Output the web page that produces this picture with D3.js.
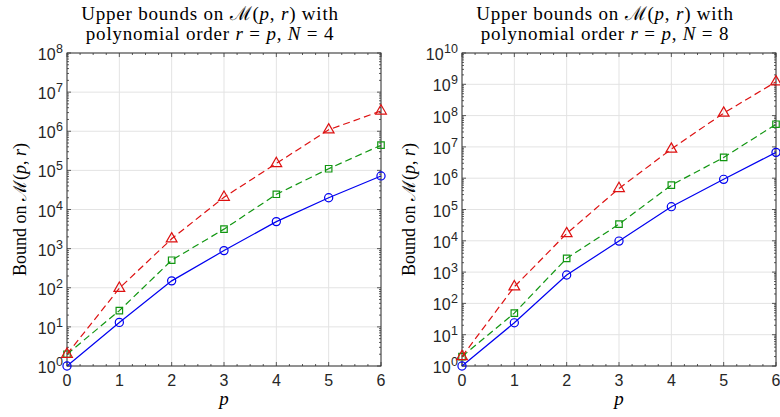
<!DOCTYPE html>
<html>
<head>
<meta charset="utf-8">
<script src="https://cdn.jsdelivr.net/npm/d3@7"></script>
<style>
  body { margin: 0; background: #fff; }
  svg { display: block; }
</style>
</head>
<body>
<div id="chart"></div>
<script>
// Data
var pValues = [0, 1, 2, 3, 4, 5, 6];
var n4Circle   = [1, 13, 150, 890, 4900, 2.0e4, 7.2e4];
var n4Square   = [2, 26, 505, 3150, 2.45e4, 1.1e5, 4.4e5];
var n4Triangle = [2, 97, 1780, 2.06e4, 1.5e5, 1.09e6, 3.3e6];
var n8Circle   = [1, 24, 810, 9800, 1.23e5, 9.2e5, 6.7e6];
var n8Square   = [2, 49, 2750, 3.4e4, 6.0e5, 4.6e6, 5.3e7];
var n8Triangle = [2, 340, 1.7e4, 4.7e5, 8.5e6, 1.2e8, 1.2e9];
var nLabels = [4, 8];
var yTopExp = [8, 10];

var svg = d3.select("#chart")
    .append("svg")
    .attr("width", 780)
    .attr("height", 417);

var panels = [
    { left: 67, right: 381, labelX: 26, N: nLabels[0], topExp: yTopExp[0], series: [n4Circle, n4Square, n4Triangle] },
    { left: 462, right: 776, labelX: 415, N: nLabels[1], topExp: yTopExp[1], series: [n8Circle, n8Square, n8Triangle] }
];

var plotTop = 53, plotBottom = 366;
var styles = [
    { color: "#0000f0", dash: null, marker: "circle" },
    { color: "#119611", dash: "7,4", marker: "square" },
    { color: "#dd1111", dash: "7,4", marker: "triangle" }
];
var serif = "'Liberation Serif', 'DejaVu Serif', serif";
var sans = "'Liberation Sans', Arial, sans-serif";

panels.forEach(drawPanel);

function drawPanel(panel) {
    var x = d3.scaleLinear().domain([0, 6]).range([panel.left, panel.right]);
    var y = d3.scaleLog().domain([1, Math.pow(10, panel.topExp)]).range([plotBottom, plotTop]);
    var g = svg.append("g");

    var majorY = d3.range(0, panel.topExp + 1).map(function (e) { return Math.pow(10, e); });
    // log ticks 1..9 per decade
    var minorY = y.ticks(panel.topExp + 1).filter(function (v) {
        var e = Math.log10(v);
        return Math.abs(e - Math.round(e)) > 1e-9;
    });
    var minorX = d3.range(0, 6.001, 0.25).filter(function (v) { return v % 1 !== 0; });

    // grid
    g.selectAll(".gx").data(pValues).enter().append("line")
        .attr("x1", function (d) { return x(d); }).attr("x2", function (d) { return x(d); })
        .attr("y1", plotTop).attr("y2", plotBottom)
        .attr("stroke", "#e3e3e3").attr("stroke-width", 1);
    g.selectAll(".gy").data(majorY).enter().append("line")
        .attr("y1", function (d) { return y(d); }).attr("y2", function (d) { return y(d); })
        .attr("x1", panel.left).attr("x2", panel.right)
        .attr("stroke", "#e3e3e3").attr("stroke-width", 1);

    // ticks, inward, on all four sides
    var tickColor = "#333";
    function yTicks(vals, len) {
        [panel.left, panel.right].forEach(function (xe, k) {
            var dir = k === 0 ? 1 : -1;
            g.append("g").selectAll("line").data(vals).enter().append("line")
                .attr("x1", xe).attr("x2", xe + dir * len)
                .attr("y1", function (d) { return y(d); }).attr("y2", function (d) { return y(d); })
                .attr("stroke", tickColor).attr("stroke-width", 0.8);
        });
    }
    function xTicks(vals, len) {
        [plotBottom, plotTop].forEach(function (ye, k) {
            var dir = k === 0 ? -1 : 1;
            g.append("g").selectAll("line").data(vals).enter().append("line")
                .attr("y1", ye).attr("y2", ye + dir * len)
                .attr("x1", function (d) { return x(d); }).attr("x2", function (d) { return x(d); })
                .attr("stroke", tickColor).attr("stroke-width", 0.8);
        });
    }
    yTicks(majorY, 4);
    yTicks(minorY, 2);
    xTicks(pValues, 4);
    xTicks(minorX, 2);

    // box
    g.append("rect")
        .attr("x", panel.left).attr("y", plotTop)
        .attr("width", panel.right - panel.left).attr("height", plotBottom - plotTop)
        .attr("fill", "none").attr("stroke", "#333").attr("stroke-width", 1);

    // tick labels
    var yl = g.selectAll(".yl").data(majorY).enter().append("text")
        .attr("x", panel.left - 4)
        .attr("y", function (d) { return y(d) + 7; })
        .attr("text-anchor", "end")
        .attr("font-family", sans).attr("font-size", 16).attr("fill", "#262626");
    yl.append("tspan").text("10");
    yl.append("tspan").attr("dy", -7).attr("dx", 0.5).attr("font-size", 12.5)
        .text(function (d) { return Math.round(Math.log10(d)); });

    g.selectAll(".xl").data(pValues).enter().append("text")
        .attr("x", function (d) { return x(d); })
        .attr("y", plotBottom + 20)
        .attr("text-anchor", "middle")
        .attr("font-family", sans).attr("font-size", 16).attr("fill", "#262626")
        .text(function (d) { return d; });

    // series
    panel.series.forEach(function (vals, si) {
        var st = styles[si];
        var pts = pValues.map(function (p, i) { return [x(p), y(vals[i])]; });
        var line = d3.line();
        g.append("path")
            .attr("d", line(pts))
            .attr("fill", "none").attr("stroke", st.color).attr("stroke-width", 1.2)
            .attr("stroke-dasharray", st.dash);
        var sym = st.marker === "circle" ? d3.symbolCircle : st.marker === "square" ? d3.symbolSquare : d3.symbolTriangle;
        var size = st.marker === "circle" ? 52 : st.marker === "square" ? 42 : 50;
        g.selectAll(".m" + si).data(pts).enter().append("path")
            .attr("transform", function (d) { return "translate(" + d[0] + "," + d[1] + ")"; })
            .attr("d", d3.symbol().type(sym).size(size))
            .attr("fill", "none").attr("stroke", st.color).attr("stroke-width", 1.2);
    });

    // titles
    var cx = (panel.left + panel.right) / 2 - 14;
    var t1 = g.append("text").attr("x", cx).attr("y", 20).attr("text-anchor", "middle")
        .attr("font-family", serif).attr("font-size", 19).attr("letter-spacing", 0.8).attr("fill", "#000");
    t1.append("tspan").text("Upper bounds on \u2133(");
    t1.append("tspan").attr("font-style", "italic").text("p");
    t1.append("tspan").text(", ");
    t1.append("tspan").attr("font-style", "italic").text("r");
    t1.append("tspan").text(") with");

    var t2 = g.append("text").attr("x", cx).attr("y", 40).attr("text-anchor", "middle")
        .attr("font-family", serif).attr("font-size", 19).attr("letter-spacing", 0.8).attr("fill", "#000");
    t2.append("tspan").text("polynomial order ");
    t2.append("tspan").attr("font-style", "italic").text("r");
    t2.append("tspan").text(" = ");
    t2.append("tspan").attr("font-style", "italic").text("p");
    t2.append("tspan").text(", ");
    t2.append("tspan").attr("font-style", "italic").text("N");
    t2.append("tspan").text(" = " + panel.N);

    // axis labels
    g.append("text")
        .attr("x", (panel.left + panel.right) / 2).attr("y", 405)
        .attr("text-anchor", "middle")
        .attr("font-family", serif).attr("font-size", 19).attr("font-style", "italic")
        .text("p");

    var yy = (plotTop + plotBottom) / 2;
    var ylab = g.append("text")
        .attr("transform", "translate(" + panel.labelX + "," + yy + ") rotate(-90)")
        .attr("text-anchor", "middle")
        .attr("font-family", serif).attr("font-size", 18);
    ylab.append("tspan").text("Bound on \u2133(");
    ylab.append("tspan").attr("font-style", "italic").text("p");
    ylab.append("tspan").text(", ");
    ylab.append("tspan").attr("font-style", "italic").text("r");
    ylab.append("tspan").text(")");
}
</script>
</body>
</html>
